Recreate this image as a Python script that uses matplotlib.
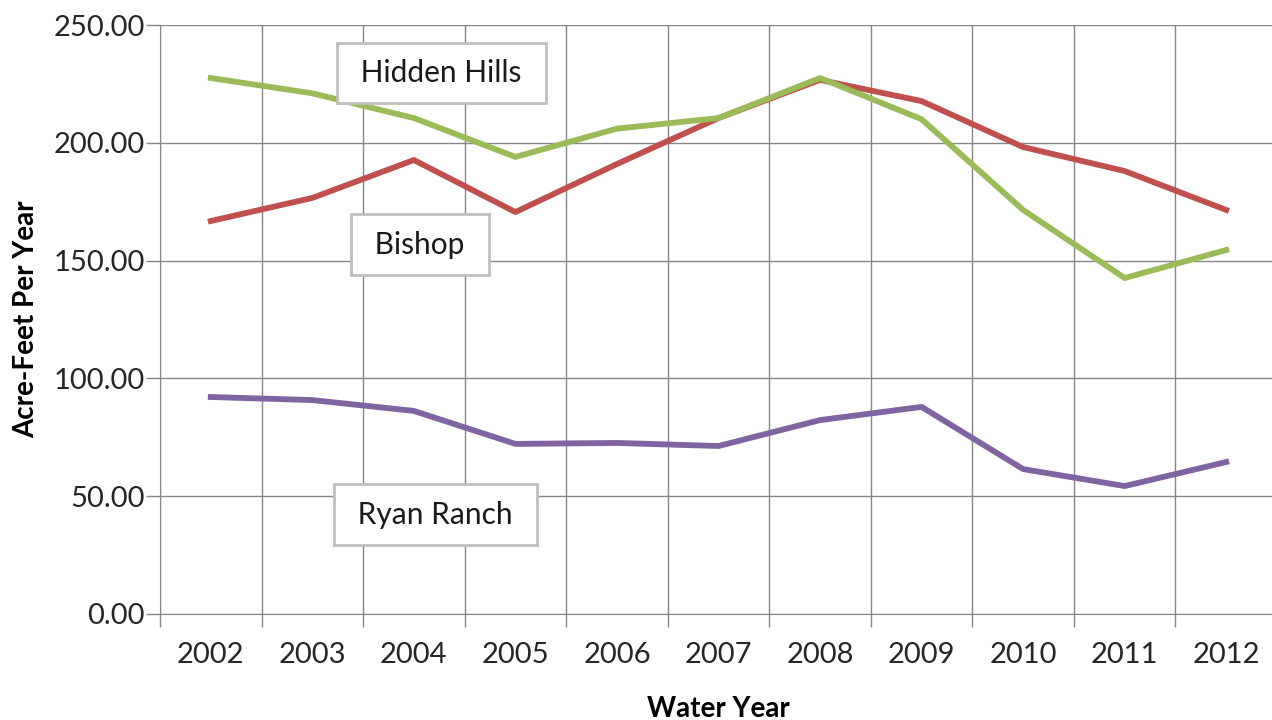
import matplotlib
matplotlib.use('Agg')
import matplotlib.pyplot as plt
import numpy as np

plt.rcParams['font.family'] = ['Lato', 'DejaVu Sans']

years = ['2002', '2003', '2004', '2005', '2006', '2007', '2008', '2009', '2010', '2011', '2012']
hidden_hills = [227.5, 221.0, 210.5, 194.0, 206.0, 210.5, 227.5, 210.0, 171.5, 142.6, 154.5]
bishop = [166.8, 176.6, 192.7, 170.6, 191.0, 210.5, 226.7, 217.7, 198.2, 188.0, 171.5]
ryan_ranch = [92.1, 90.8, 86.2, 72.2, 72.6, 71.3, 82.3, 87.9, 61.5, 54.3, 64.5]

fig = plt.figure(figsize=(12.72, 7.2), dpi=100)
ax = fig.add_axes([160/1272, 1-614/720, 1117/1272, 589/720])

x = np.arange(len(years))
ax.plot(x, bishop, color='#C0504D', lw=4.2, zorder=3)
ax.plot(x, hidden_hills, color='#9BBB59', lw=4.2, zorder=3)
ax.plot(x, ryan_ranch, color='#8064A2', lw=4.2, zorder=3)

ax.set_xlim(-0.5, len(years) - 0.5)
ax.set_ylim(0, 250)
ax.set_yticks(np.arange(0, 251, 50))
ax.set_yticklabels(['%.2f' % v for v in np.arange(0, 251, 50)])
ax.set_xticks(x)
ax.set_xticklabels(years)
ax.set_xticks(np.arange(-0.5, len(years), 1), minor=True)

ax.grid(True, axis='y', color='#868686', lw=1)
ax.grid(True, axis='x', which='minor', color='#868686', lw=1)
ax.set_axisbelow(True)

ax.tick_params(axis='x', which='major', length=0, labelsize=21, pad=20, labelcolor='#262626')
ax.tick_params(axis='x', which='minor', length=9, width=1, color='#868686')
ax.tick_params(axis='y', length=10, width=1, color='#868686', labelsize=21, labelcolor='#262626', pad=1)

for side in ['top', 'right']:
    ax.spines[side].set_visible(False)
ax.spines['left'].set_color('#868686')
ax.spines['bottom'].set_color('#868686')

ax.set_xlabel('Water Year', fontsize=20, fontweight='bold', labelpad=20)
ax.set_ylabel('Acre-Feet Per Year', fontsize=20, fontweight='bold', labelpad=10)

box = dict(boxstyle='square,pad=0.55', facecolor='white', edgecolor='#BFBFBF', lw=2)
ax.text(2.27, 229.6, ' Hidden Hills ', fontsize=21.5, ha='center', va='center', bbox=box, zorder=4, color='#1a1a1a')
ax.text(2.06, 156.8, ' Bishop ', fontsize=21.5, ha='center', va='center', bbox=box, zorder=4, color='#1a1a1a')
ax.text(2.21, 42.2, ' Ryan Ranch ', fontsize=21.5, ha='center', va='center', bbox=box, zorder=4, color='#1a1a1a')

fig.savefig('out.png', dpi=100)
